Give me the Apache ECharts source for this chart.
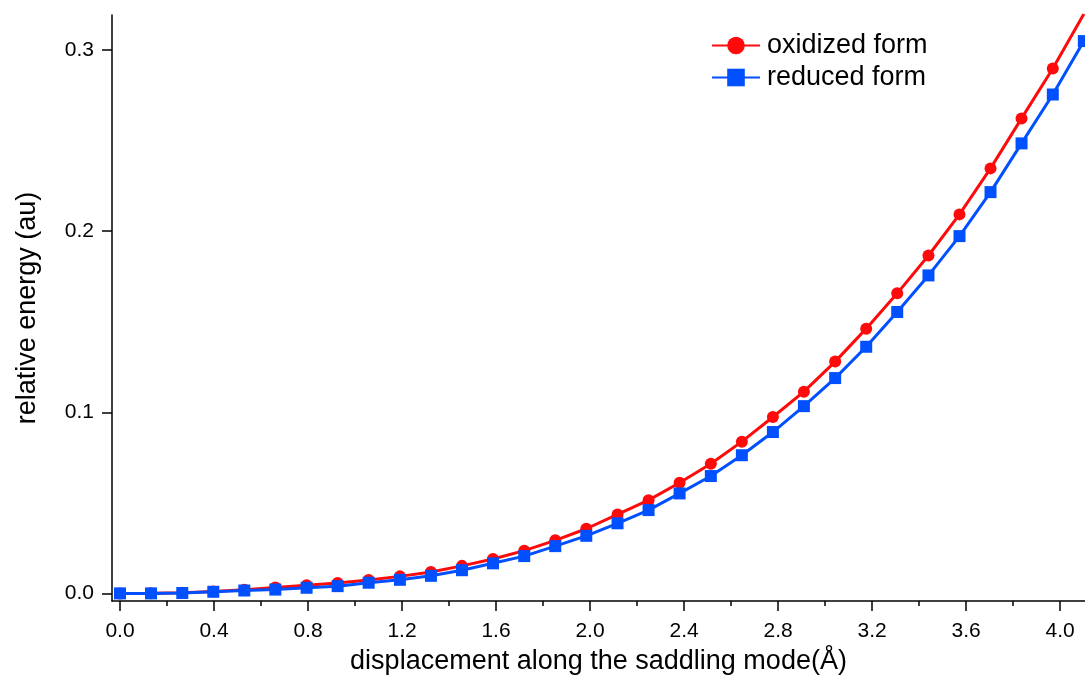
<!DOCTYPE html>
<html>
<head>
<meta charset="utf-8">
<script src="https://cdn.jsdelivr.net/npm/echarts@6/dist/echarts.min.js"></script>
<style>html,body{margin:0;padding:0;background:#fff}#c{width:1085px;height:684px}</style>
</head>
<body>
<div id="c"></div>
<script>
const displacement = [0, 0.132, 0.265, 0.397, 0.529, 0.661, 0.794, 0.926, 1.058, 1.191, 1.323, 1.455, 1.587, 1.720, 1.852, 1.984, 2.117, 2.249, 2.381, 2.514, 2.646, 2.778, 2.910, 3.043, 3.175, 3.307, 3.440, 3.572, 3.704, 3.836, 3.969, 4.101];
const oxidized = [0, 0.0001, 0.0004, 0.0011, 0.0020, 0.0033, 0.0045, 0.0058, 0.0074, 0.0094, 0.0118, 0.0152, 0.0190, 0.0236, 0.0293, 0.0357, 0.0436, 0.0515, 0.0611, 0.0716, 0.0838, 0.0974, 0.1114, 0.1280, 0.1462, 0.1657, 0.1866, 0.2093, 0.2347, 0.2623, 0.2899, 0.3200];
const reduced = [0, 0, 0.0002, 0.0009, 0.0016, 0.0021, 0.0031, 0.0040, 0.0059, 0.0075, 0.0097, 0.0128, 0.0166, 0.0206, 0.0261, 0.0318, 0.0387, 0.0460, 0.0552, 0.0648, 0.0763, 0.0891, 0.1034, 0.1189, 0.1362, 0.1554, 0.1756, 0.1973, 0.2216, 0.2485, 0.2755, 0.3050];
const xMajorTicks = [0, 0.4, 0.8, 1.2, 1.6, 2.0, 2.4, 2.8, 3.2, 3.6, 4.0];
const xMinorTicks = [0.2, 0.6, 1.0, 1.4, 1.8, 2.2, 2.6, 3.0, 3.4, 3.8];
const yTicks = [0, 0.1, 0.2, 0.3];
const seriesNames = ['oxidized form', 'reduced form'];

const FONT = "'Liberation Sans', Arial, Helvetica, sans-serif";
const RED = '#ff0a0a';
const BLUE = '#0050ff';

const chart = echarts.init(document.getElementById('c'), null, {renderer: 'canvas'});
const pairs = ys => displacement.map((x, i) => [x, ys[i]]);
const axisLineStyle = {color: '#000', width: 1.5};

chart.setOption({
  animation: false,
  backgroundColor: '#fff',
  textStyle: {fontFamily: FONT},
  grid: {left: 112, right: 0, top: 15, bottom: 83, containLabel: false},
  legend: {
    left: 706, top: 27, orient: 'vertical',
    itemWidth: 48, itemHeight: 22, itemGap: 5,
    textStyle: {fontFamily: FONT, fontSize: 27, color: '#000', padding: [0, 0, 0, 2]},
    data: seriesNames
  },
  xAxis: [{
    type: 'value', min: -0.034, max: 4.106,
    axisLine: {show: true, onZero: false, lineStyle: axisLineStyle},
    axisTick: {show: true, inside: false, length: 10, customValues: xMajorTicks, lineStyle: {color: '#000', width: 1.5}},
    axisLabel: {show: true, customValues: xMajorTicks, margin: 20, fontSize: 21, color: '#000', fontFamily: FONT,
      formatter: v => v.toFixed(1)},
    splitLine: {show: false},
    name: 'displacement along the saddling mode(Å)',
    nameLocation: 'middle', nameGap: 47,
    nameTextStyle: {fontSize: 27, color: '#000', fontFamily: FONT}
  }, {
    type: 'value', min: -0.034, max: 4.106, position: 'bottom',
    axisLine: {show: false, onZero: false},
    axisTick: {show: true, inside: false, length: 5, customValues: xMinorTicks, lineStyle: {color: '#000', width: 1.5}},
    axisLabel: {show: false},
    splitLine: {show: false}
  }],
  yAxis: {
    type: 'value', min: -0.0042, max: 0.3194,
    axisLine: {show: true, onZero: false, lineStyle: axisLineStyle},
    axisTick: {show: true, inside: false, length: 10, customValues: yTicks, lineStyle: {color: '#000', width: 1.5}},
    axisLabel: {show: true, customValues: yTicks, margin: 18, fontSize: 21, color: '#000', fontFamily: FONT,
      formatter: v => v.toFixed(1)},
    splitLine: {show: false},
    name: 'relative energy (au)',
    nameLocation: 'middle', nameGap: 71, nameRotate: 90,
    nameTextStyle: {fontSize: 27, color: '#000', fontFamily: FONT}
  },
  series: [{
    name: seriesNames[0], type: 'line', xAxisIndex: 0,
    data: pairs(oxidized),
    symbol: 'circle', symbolSize: 12,
    lineStyle: {color: RED, width: 3},
    itemStyle: {color: RED},
    z: 2
  }, {
    name: seriesNames[1], type: 'line', xAxisIndex: 0,
    data: pairs(reduced),
    symbol: 'rect', symbolSize: 12,
    lineStyle: {color: BLUE, width: 3},
    itemStyle: {color: BLUE},
    z: 3
  }]
});
</script>
</body>
</html>
